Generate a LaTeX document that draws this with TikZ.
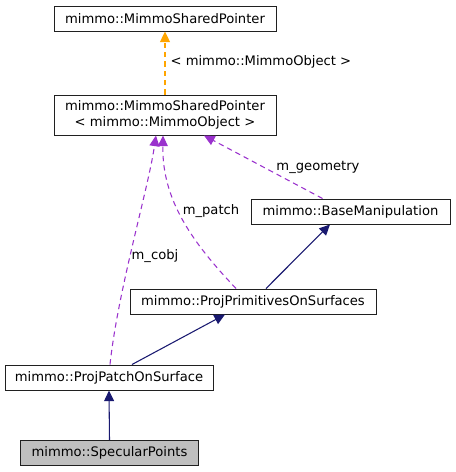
\documentclass[tikz,border=0pt]{standalone}
\usepackage{fontspec}
\setmainfont{DejaVu Sans}
\usetikzlibrary{arrows.meta}

\definecolor{edgenavy}{HTML}{191970}
\definecolor{edgepurple}{HTML}{9A32CD}
\definecolor{edgeorange}{HTML}{FFA500}
\definecolor{boxline}{HTML}{202020}

\tikzset{
  cls/.style={draw=boxline, line width=0.75pt, fill=white, inner sep=0pt,
    minimum height=18.75pt, align=center, font=\fontsize{9.85}{11.6}\selectfont},
  inherit/.style={draw=edgenavy, line width=0.8pt,
    -{Triangle[length=8pt,width=7.5pt]}},
  member/.style={draw=edgepurple, line width=0.8pt, dash pattern=on 4pt off 3pt,
    -{Triangle[length=8pt,width=7.5pt]}},
  templ/.style={draw=edgeorange, line width=0.9pt, dash pattern=on 4pt off 3pt,
    -{Triangle[length=8pt,width=7.5pt]}},
  lbl/.style={font=\fontsize{9.85}{11.6}\selectfont, inner sep=0pt},
}

\begin{document}
\begin{tikzpicture}[x=0.75pt, y=-0.75pt]
        \useasboundingbox (0,0) rectangle (455,472);

        \node[cls, minimum width=166.5pt] (shp) at (165,18.5) {mimmo::MimmoSharedPointer};
        \node[cls, minimum width=166.5pt, minimum height=30pt] (msp) at (165,115)
          {mimmo::MimmoSharedPointer\\< mimmo::MimmoObject >};
        \node[cls, minimum width=149.25pt] (base) at (350.5,211.5) {mimmo::BaseManipulation};
        \node[cls, minimum width=184.5pt] (prim) at (253,301.5) {mimmo::ProjPrimitivesOnSurfaces};
        \node[cls, minimum width=156pt] (patch) at (109,377.5) {mimmo::ProjPatchOnSurface};
        \node[cls, minimum width=133.5pt, fill=black!25] (spec) at (109.5,453) {mimmo::SpecularPoints};

        \draw[templ] (msp.north) -- (shp.south)
          node[lbl, anchor=west] at (170,62) {< mimmo::MimmoObject >};

        \draw[member] ([xshift=-21pt]base.north) -- ([xshift=29.25pt]msp.south)
          node[lbl] at (318,167) {m\_geometry};
        \draw[member] ([xshift=-12.75pt]prim.north) .. controls (192,242) and (162,200) .. ([xshift=-1.5pt]msp.south)
          node[lbl] at (211,211) {m\_patch};
        \draw[member] ([xshift=0.75pt]patch.north) .. controls (118,290) and (148,190) .. ([xshift=-6.75pt]msp.south)
          node[lbl] at (155,256) {m\_cobj};

        \draw[inherit] ([xshift=9.75pt]prim.north) -- ([xshift=-15.4pt]base.south);
        \draw[inherit] ([xshift=17.25pt]patch.north) -- ([xshift=-21pt]prim.south);
        \draw[inherit] (spec.north) -- (patch.south);
    \end{tikzpicture}
\end{document}
